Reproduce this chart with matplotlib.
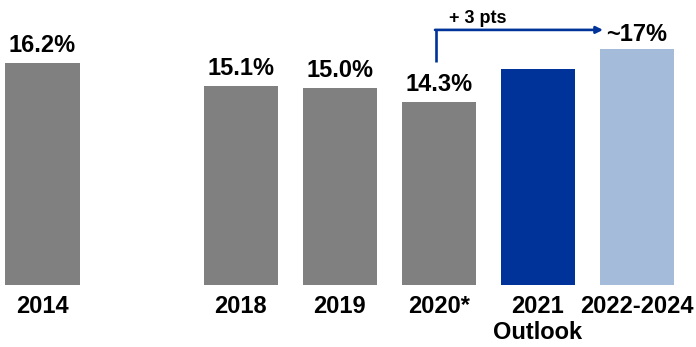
import numpy as np
import matplotlib.pyplot as plt

plt.rcParams['font.family'] = ['Liberation Sans', 'DejaVu Sans']

# chart data
positions = [0, 2, 3, 4, 5, 6]
tick_labels = ['2014', '2018', '2019', '2020*', '2021\nOutlook', '2022-2024']
values = [16.2, 15.1, 15.0, 14.3, 15.9, 16.9]
value_labels = ['16.2%', '15.1%', '15.0%', '14.3%', None, None]
outlook_label = '~17%'
gain_label = '+ 3 pts'

gray = '#808080'
dark_blue = '#003399'
light_blue = '#A4BCDA'
colors = [gray, gray, gray, gray, dark_blue, light_blue]

base = 5.5

fig = plt.figure(figsize=(6.96, 3.47), dpi=100)
ax = fig.add_axes([0, 62 / 347, 1, 285 / 347])

heights = np.array(values) - base
ax.bar(positions, heights, bottom=base, width=0.747, color=colors)

for x, v, lab in zip(positions, values, value_labels):
    if lab:
        ax.annotate(lab, (x, v), xytext=(0, 4.5), textcoords='offset points',
                    ha='center', va='bottom', fontsize=17, fontweight='bold')

# growth arrow from 2020 to the 2022-2024 outlook
x_start, x_end = 3.97, 5.656
y_low, y_top = 16.25, 17.8
ax.plot([x_start, x_start], [y_low, y_top], color=dark_blue, lw=1.9,
        solid_capstyle='butt')
ax.annotate('', xy=(x_end, y_top), xytext=(x_start - 0.009, y_top),
            arrowprops=dict(arrowstyle='-|>', color=dark_blue, lw=1.9,
                            mutation_scale=10, shrinkA=0, shrinkB=0))
ax.text(4.39, 18.35, gain_label, ha='center', va='center',
        fontsize=13, fontweight='bold')
ax.annotate(outlook_label, (x_end, y_top), xytext=(2, -3),
            textcoords='offset points', ha='left', va='center',
            fontsize=17, fontweight='bold')

ax.set_xlim(-42.5 / 99.1, (696 - 42.5) / 99.1)
ax.set_ylim(base, base + 285 / 20.74)
ax.set_xticks(positions)
ax.set_xticklabels(tick_labels, fontsize=17, fontweight='bold')
ax.tick_params(axis='x', length=0, pad=7)
ax.set_yticks([])
for s in ax.spines.values():
    s.set_visible(False)

fig.savefig('out.png', dpi=100)
